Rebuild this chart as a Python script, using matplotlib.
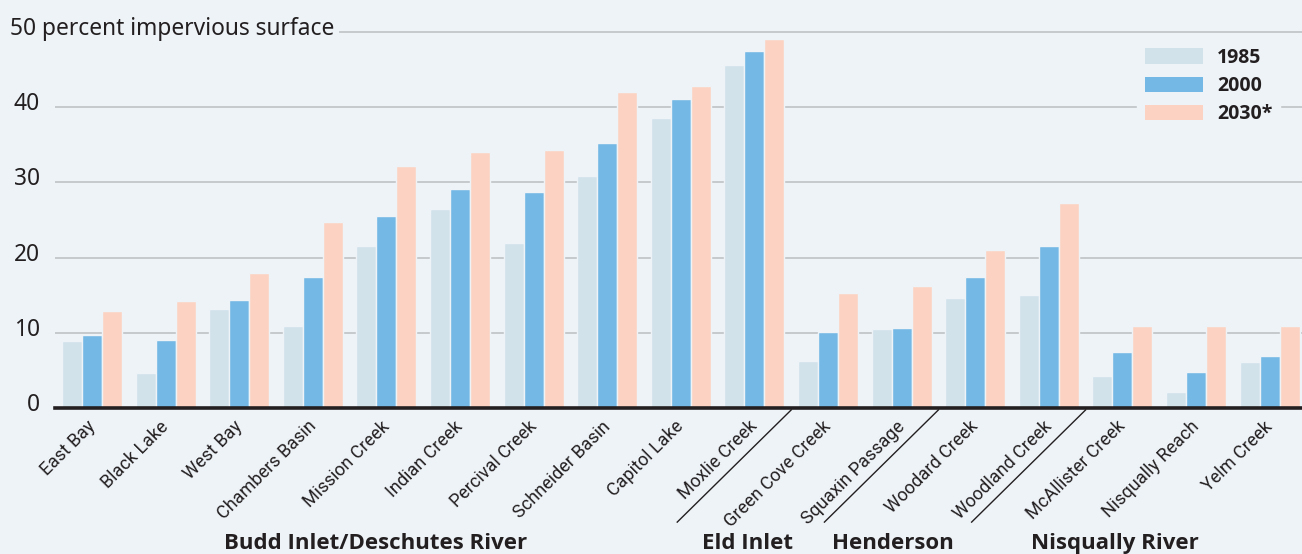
import matplotlib
matplotlib.use("Agg")
import matplotlib.pyplot as plt
from matplotlib.patches import Patch
from matplotlib.transforms import ScaledTranslation
import numpy as np

# ---------------- data ----------------
watersheds = ["East Bay", "Black Lake", "West Bay", "Chambers Basin", "Mission Creek",
              "Indian Creek", "Percival Creek", "Schneider Basin", "Capitol Lake",
              "Moxlie Creek", "Green Cove Creek", "Squaxin Passage", "Woodard Creek",
              "Woodland Creek", "McAllister Creek", "Nisqually Reach", "Yelm Creek"]
v1985 = [8.9, 4.7, 13.2, 11.0, 21.6, 26.5, 21.9, 30.8, 38.6, 45.6,
         6.3, 10.5, 14.6, 15.0, 4.3, 2.2, 6.1]
v2000 = [9.7, 9.1, 14.4, 17.5, 25.6, 29.2, 28.7, 35.3, 41.1, 47.5,
         10.2, 10.65, 17.4, 21.6, 7.5, 4.9, 6.9]
v2030 = [13.0, 14.3, 18.0, 24.8, 32.2, 34.0, 34.3, 42.0, 42.8, 49.0,
         15.3, 16.2, 21.1, 27.3, 10.9, 10.9, 10.9]
series_labels = ["1985", "2000", "2030*"]
yticks = [0, 10, 20, 30, 40, 50]
ytick_labels = ["0", "10", "20", "30", "40", "50 percent impervious surface"]
group_names = ["Budd Inlet/Deschutes River", "Eld Inlet", "Henderson\nInlet", "Nisqually River"]
group_label_x = [3.85, 8.9, 10.88, 13.9]
separators_after = [9, 11, 13]   # boundary after these watershed indices

# ---------------- style ----------------
BG = "#eef3f8"
COLORS = ["#d1e2eb", "#74b8e5", "#fcd3c2"]
TXT = "#231f20"
GRID = "#c3c6c9"
DPI = 100
BOLD_FONT = ["Open Sans", "Lato"]

fig = plt.figure(figsize=(13.02, 5.54), dpi=DPI, facecolor=BG)
ax = fig.add_axes([55/1302, 1 - 408.4/554, 1 - 55/1302, 376.5/554])
ax.set_facecolor(BG)

def px(dx, dy):
    return ScaledTranslation(dx / DPI, dy / DPI, fig.dpi_scale_trans)

x = np.arange(len(watersheds))
bw = 0.272
for i, (vals, col, lab) in enumerate(zip([v1985, v2000, v2030], COLORS, series_labels)):
    ax.bar(x + (i - 1) * bw, vals, width=bw, color=col, edgecolor=BG,
           linewidth=1.0, zorder=2, label=lab)

ax.set_xlim(-0.503, 16.44)
ax.set_ylim(0, 50)

# gridlines
for yv in yticks[1:-1]:
    ax.axhline(yv, color=GRID, lw=1.3, zorder=0)
ax.axhline(50, xmin=(340 - 55) / (1302 - 55), xmax=1, color=GRID, lw=1.3, zorder=0, clip_on=False)
ax.axhline(0, color=TXT, lw=2.6, zorder=3, clip_on=False)

for s in ax.spines.values():
    s.set_visible(False)

# y tick labels as text
ax.set_yticks([])
ytr = ax.get_yaxis_transform()
for yv, lab in zip(yticks, ytick_labels):
    if yv == 50:
        ax.text(0, yv, lab, transform=ytr + px(-45, -3),
                ha="left", va="baseline", fontsize=16.4, family="Noto Sans", color=TXT, clip_on=False)
    else:
        ax.text(0, yv, lab, transform=ytr + px(-15, -3),
                ha="right", va="baseline", fontsize=16.4, family="Noto Sans", color=TXT, clip_on=False)

# x tick labels
ax.set_xticks(x)
ax.set_xticklabels(watersheds, rotation=45, ha="right", rotation_mode="anchor",
                   fontsize=13, family=["Liberation Sans Narrow", "Roboto"], color=TXT)
ax.tick_params(axis="x", length=0, pad=6.5)
for lbl in ax.get_xticklabels():
    lbl.set_transform(lbl.get_transform() + px(-6, 0))

# separator diagonals
xtr = ax.get_xaxis_transform()
for s in separators_after:
    m = s + 0.5
    ax.plot([m, m - 114/73.6], [-0.004, -0.302], transform=xtr, color=TXT, lw=1.0,
            clip_on=False, zorder=3)

# group labels (extra lines continue below the first baseline)
for gx, gname in zip(group_label_x, group_names):
    for k, line in enumerate(gname.split("\n")):
        ax.text(gx, 0, line, transform=xtr + px(0, -(549 - 408.4) - k * 26),
                ha="center", va="baseline", fontsize=16, fontweight="bold", family=BOLD_FONT,
                color=TXT, clip_on=False)

# legend
handles = [Patch(facecolor=c, edgecolor="none") for c in COLORS]
leg = ax.legend(handles, series_labels, loc="upper left",
                bbox_to_anchor=(1137/1302, 1 - 40/554), bbox_transform=fig.transFigure,
                frameon=True, fancybox=False, facecolor=BG, edgecolor=BG, framealpha=1,
                prop={"family": BOLD_FONT, "weight": "bold", "size": 14},
                handlelength=3.0, handleheight=0.82, handletextpad=0.72,
                labelspacing=0.42, borderpad=0.4, borderaxespad=0)
for t in leg.get_texts():
    t.set_color(TXT)
leg.set_zorder(5)

fig.savefig("out.png", dpi=DPI, facecolor=BG)
